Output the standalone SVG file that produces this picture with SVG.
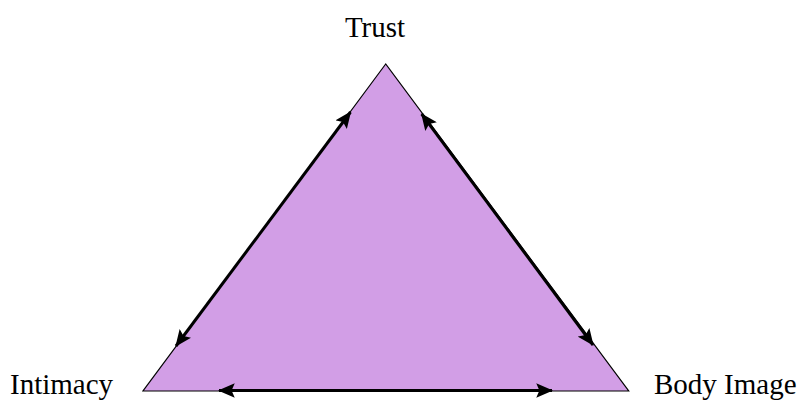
<svg xmlns="http://www.w3.org/2000/svg" width="812" height="401" viewBox="0 0 812 401">
<style>
.lbl{font-family:"Liberation Serif","Times New Roman",serif;font-size:29px;fill:#000}
.arr{stroke:#000;stroke-width:3;fill:none;marker-start:url(#ah);marker-end:url(#ah)}
</style>
<defs>
<marker id="ah" viewBox="0 0 16 14" refX="15" refY="7" markerWidth="5.6" markerHeight="4.8" orient="auto-start-reverse" markerUnits="strokeWidth" preserveAspectRatio="none">
<path d="M0,0 L16,7 L0,14 L3,7 Z" fill="#000"/>
</marker>
</defs>
<rect width="812" height="401" fill="#fff"/>
<g id="triangle">
<polygon points="385.7,64 143,391 628.7,391" fill="#D29EE6" stroke="#000" stroke-width="1.2"/>
</g>
<g id="trust"><text class="lbl" x="375" y="37" text-anchor="middle">Trust</text></g>
<g id="intimacy"><text class="lbl" x="10" y="394">Intimacy</text></g>
<g id="body-image"><text class="lbl" x="654" y="394">Body Image</text></g>
<g id="connectors">
<line class="arr" x1="350.5" y1="112" x2="176" y2="346"/>
<line class="arr" x1="421.7" y1="114" x2="593" y2="345"/>
<line class="arr" x1="219" y1="390.5" x2="552" y2="390.5"/>
</g>
</svg>
